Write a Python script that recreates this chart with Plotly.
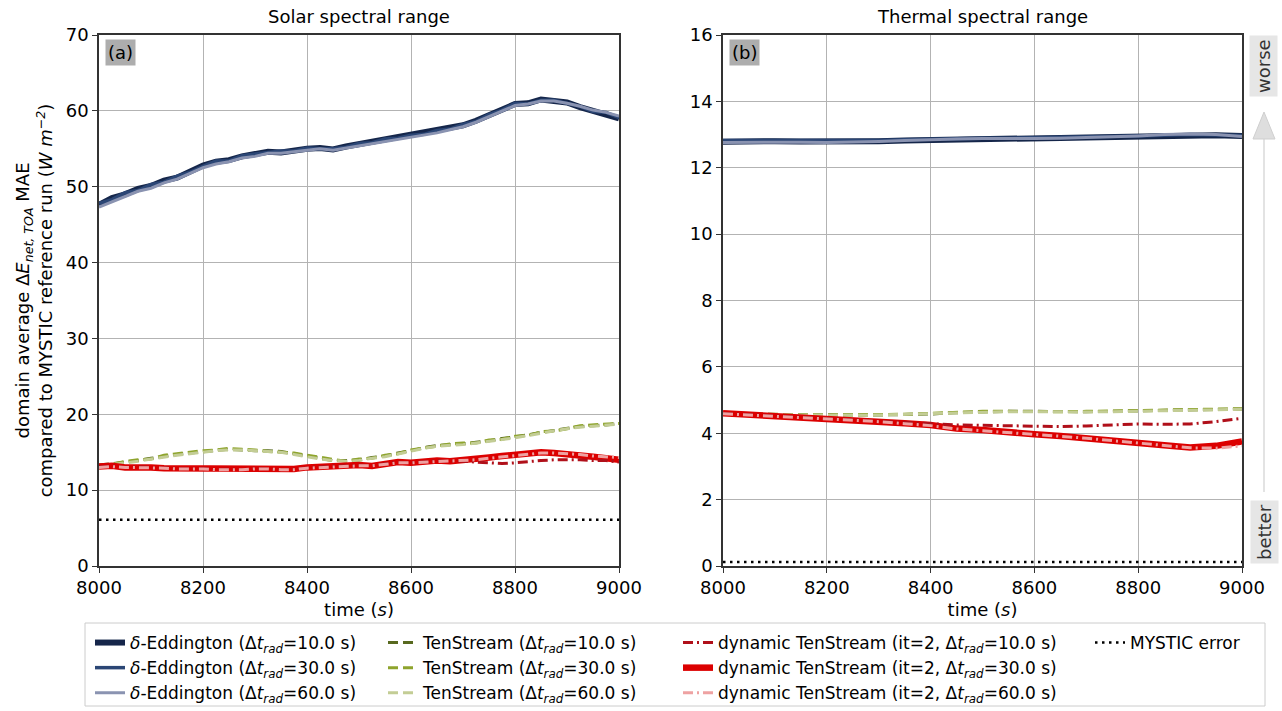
import plotly.graph_objects as go

# ---------------- data ----------------
time_solar = [8000, 8025, 8050, 8075, 8100, 8125, 8150, 8175, 8200, 8225, 8250, 8275, 8300, 8325,
              8350, 8375, 8400, 8425, 8450, 8475, 8500, 8525, 8550, 8575, 8600, 8625, 8650, 8675,
              8700, 8725, 8750, 8775, 8800, 8825, 8850, 8875, 8900, 8925, 8950, 8975, 9000]

deltaE_10_solar = [47.6, 48.5, 49.0, 49.7, 50.1, 50.8, 51.2, 52.1, 52.8, 53.3, 53.5, 54.0, 54.2, 54.6,
                   54.5, 54.8, 55.0, 55.1, 54.9, 55.3, 55.6, 55.9, 56.2, 56.5, 56.7, 57.0, 57.3, 57.7,
                   58.1, 58.7, 59.4, 60.2, 60.9, 61.0, 61.5, 61.3, 61.1, 60.5, 60.0, 59.7, 59.0]
deltaE_30_solar = [47.8, 48.3, 49.2, 49.5, 50.3, 50.6, 51.4, 51.9, 52.7, 53.4, 53.4, 54.1, 54.3, 54.5,
                   54.7, 54.7, 55.1, 55.0, 55.0, 55.2, 55.7, 55.8, 56.3, 56.4, 56.8, 56.9, 57.4, 57.6,
                   58.2, 58.6, 59.5, 60.1, 61.0, 60.9, 61.4, 61.4, 61.0, 60.6, 59.9, 59.8, 59.1]
deltaE_60_solar = [47.3, 48.0, 48.7, 49.4, 49.8, 50.5, 51.0, 51.8, 52.5, 53.0, 53.3, 53.8, 54.0, 54.4,
                   54.4, 54.6, 54.8, 55.0, 54.8, 55.1, 55.4, 55.7, 56.0, 56.3, 56.5, 56.8, 57.1, 57.5,
                   57.9, 58.5, 59.2, 60.0, 60.7, 60.9, 61.3, 61.3, 61.0, 60.6, 60.1, 59.8, 59.3]

tenstream_10_solar = [13.3, 13.5, 13.7, 13.9, 14.2, 14.5, 14.7, 14.9, 15.1, 15.3, 15.4, 15.3, 15.2, 15.2,
                      15.1, 14.8, 14.5, 14.2, 13.9, 13.9, 14.0, 14.3, 14.5, 14.9, 15.2, 15.6, 15.9, 16.0,
                      16.1, 16.3, 16.5, 16.8, 17.0, 17.3, 17.6, 17.9, 18.2, 18.4, 18.5, 18.6, 18.8]
tenstream_30_solar = [13.2, 13.4, 13.8, 14.0, 14.1, 14.6, 14.8, 15.0, 15.2, 15.3, 15.5, 15.4, 15.3, 15.1,
                      15.0, 14.9, 14.6, 14.3, 14.0, 13.8, 14.1, 14.2, 14.6, 14.8, 15.3, 15.5, 15.8, 16.1,
                      16.2, 16.2, 16.6, 16.7, 17.1, 17.2, 17.7, 17.8, 18.1, 18.5, 18.6, 18.7, 18.8]
tenstream_60_solar = [13.2, 13.4, 13.6, 13.8, 14.1, 14.4, 14.6, 14.8, 15.0, 15.2, 15.3, 15.3, 15.2, 15.1,
                      15.0, 14.7, 14.4, 14.1, 13.9, 13.8, 13.9, 14.2, 14.4, 14.8, 15.1, 15.5, 15.8, 15.9,
                      16.0, 16.2, 16.4, 16.7, 16.9, 17.2, 17.5, 17.8, 18.1, 18.3, 18.4, 18.6, 18.7]

dyn_10_solar = [13.1, 13.2, 13.0, 13.1, 13.0, 12.9, 12.9, 12.8, 12.9, 12.7, 12.8, 12.7, 12.9, 12.8,
                12.7, 12.8, 13.0, 13.1, 13.2, 13.2, 13.3, 13.2, 13.5, 13.7, 13.6, 13.8, 13.9, 13.8,
                13.8, 13.7, 13.6, 13.5, 13.6, 13.8, 13.9, 14.0, 14.0, 14.0, 13.9, 13.9, 13.7]
dyn_30_solar = [13.1, 13.2, 13.0, 13.1, 13.0, 12.9, 12.9, 12.8, 12.9, 12.7, 12.8, 12.7, 12.9, 12.8,
                12.7, 12.8, 13.0, 13.1, 13.2, 13.2, 13.3, 13.2, 13.5, 13.7, 13.6, 13.8, 13.9, 13.8,
                13.9, 14.1, 14.3, 14.5, 14.7, 14.8, 15.0, 14.9, 14.8, 14.6, 14.4, 14.2, 14.0]
dyn_60_solar = [13.0, 13.1, 13.0, 13.0, 12.9, 12.9, 12.8, 12.8, 12.8, 12.7, 12.7, 12.7, 12.8, 12.8,
                12.7, 12.7, 12.9, 13.0, 13.1, 13.2, 13.2, 13.2, 13.4, 13.6, 13.6, 13.7, 13.8, 13.8,
                13.9, 14.0, 14.2, 14.4, 14.6, 14.8, 14.9, 14.9, 14.8, 14.7, 14.5, 14.4, 14.3]

time_mystic = [8000, 9000]
mystic_solar = [6.1, 6.1]
mystic_thermal = [0.12, 0.12]

time_thermal = [8000, 8050, 8100, 8150, 8200, 8250, 8300, 8350, 8400, 8450, 8500,
                8550, 8600, 8650, 8700, 8750, 8800, 8850, 8900, 8950, 9000]

deltaE_10_thermal = [12.78, 12.80, 12.80, 12.79, 12.78, 12.79, 12.80, 12.82, 12.84, 12.86, 12.88,
                     12.88, 12.89, 12.90, 12.91, 12.93, 12.94, 12.96, 12.98, 12.98, 12.96]
deltaE_30_thermal = [12.82, 12.82, 12.81, 12.80, 12.80, 12.80, 12.82, 12.84, 12.86, 12.87, 12.89,
                     12.89, 12.90, 12.91, 12.93, 12.94, 12.96, 12.98, 13.00, 12.99, 12.97]
deltaE_60_thermal = [12.76, 12.77, 12.78, 12.77, 12.76, 12.77, 12.79, 12.82, 12.85, 12.87, 12.88,
                     12.87, 12.88, 12.89, 12.91, 12.93, 12.96, 13.00, 13.02, 13.00, 12.94]

tenstream_10_thermal = [4.58, 4.57, 4.56, 4.55, 4.55, 4.55, 4.55, 4.56, 4.58, 4.62, 4.65,
                        4.66, 4.66, 4.65, 4.65, 4.66, 4.67, 4.68, 4.70, 4.72, 4.73]
tenstream_30_thermal = [4.59, 4.58, 4.56, 4.56, 4.55, 4.56, 4.56, 4.57, 4.60, 4.63, 4.66,
                        4.66, 4.65, 4.65, 4.66, 4.67, 4.68, 4.70, 4.71, 4.72, 4.74]
tenstream_60_thermal = [4.57, 4.56, 4.55, 4.54, 4.54, 4.54, 4.55, 4.56, 4.59, 4.61, 4.64,
                        4.65, 4.65, 4.64, 4.64, 4.65, 4.66, 4.68, 4.69, 4.71, 4.72]

dyn_10_thermal = [4.60, 4.56, 4.52, 4.48, 4.45, 4.42, 4.37, 4.32, 4.28, 4.25, 4.24,
                  4.22, 4.20, 4.20, 4.22, 4.25, 4.28, 4.27, 4.28, 4.35, 4.45]
dyn_30_thermal = [4.60, 4.56, 4.52, 4.48, 4.45, 4.42, 4.36, 4.30, 4.25, 4.14, 4.10,
                  4.02, 3.97, 3.92, 3.86, 3.80, 3.73, 3.64, 3.57, 3.62, 3.75]
dyn_60_thermal = [4.59, 4.55, 4.51, 4.47, 4.44, 4.41, 4.35, 4.29, 4.23, 4.13, 4.08,
                  4.01, 3.96, 3.91, 3.85, 3.78, 3.71, 3.62, 3.56, 3.55, 3.62]

rad_steps = ["10.0", "30.0", "60.0"]
solar_yticks = [0, 10, 20, 30, 40, 50, 60, 70]
thermal_yticks = [0, 2, 4, 6, 8, 10, 12, 14, 16]
x_ticks = [8000, 8200, 8400, 8600, 8800, 9000]

# ---------------- styles ----------------
FONT = "DejaVu Sans"
dE_colors = ["#15264a", "#2b4675", "#8a93b1"]
dE_widths = [6, 3.5, 3]
ts_colors = ["#58691f", "#8ea42d", "#c3cd95"]
dyn_colors = ["#b0101a", "#dc0000", "#eea2a2"]
dyn_widths = [3, 6.5, 3]
dyn_dash = ["10px,4px,2px,4px", "solid", "10px,4px,2px,4px"]

fig = go.Figure()

def dt(s):
    return "(\u0394<i>t<sub>rad</sub></i>=" + s + " s)"

panels = [
    ("x", "y", time_solar, [deltaE_10_solar, deltaE_30_solar, deltaE_60_solar],
     [tenstream_10_solar, tenstream_30_solar, tenstream_60_solar],
     [dyn_10_solar, dyn_30_solar, dyn_60_solar], mystic_solar, True),
    ("x2", "y2", time_thermal, [deltaE_10_thermal, deltaE_30_thermal, deltaE_60_thermal],
     [tenstream_10_thermal, tenstream_30_thermal, tenstream_60_thermal],
     [dyn_10_thermal, dyn_30_thermal, dyn_60_thermal], mystic_thermal, False),
]

for xa, ya, t, dE, ts, dyn, my, show in panels:
    for i in range(3):
        fig.add_trace(go.Scatter(x=t, y=dE[i], mode="lines", xaxis=xa, yaxis=ya,
                                 line=dict(color=dE_colors[i], width=dE_widths[i]),
                                 name="<i>\u03b4</i>-Eddington " + dt(rad_steps[i]),
                                 legend="legend", showlegend=show))
    for i in range(3):
        fig.add_trace(go.Scatter(x=t, y=ts[i], mode="lines", xaxis=xa, yaxis=ya,
                                 line=dict(color=ts_colors[i], width=3, dash="10px,5px"),
                                 name="TenStream " + dt(rad_steps[i]),
                                 legend="legend2", showlegend=show))
    for i in [1, 0, 2]:
        fig.add_trace(go.Scatter(x=t, y=dyn[i], mode="lines", xaxis=xa, yaxis=ya,
                                 line=dict(color=dyn_colors[i], width=dyn_widths[i], dash=dyn_dash[i]),
                                 name="dynamic TenStream (it=2, \u0394<i>t<sub>rad</sub></i>=" + rad_steps[i] + " s)",
                                 legend="legend3", showlegend=show, legendrank=i + 1))
    fig.add_trace(go.Scatter(x=time_mystic, y=my, mode="lines", xaxis=xa, yaxis=ya,
                             line=dict(color="black", width=2.5, dash="2.5px,4.5px"),
                             name="MYSTIC error", legend="legend4", showlegend=show))

W, H = 1282, 711
def px_x(p):
    return p / W
def px_y(p):
    return 1 - p / H

axis_common = dict(showline=True, linecolor="#333333", linewidth=1.5, mirror=True,
                   ticks="outside", ticklen=5, tickcolor="#333333", automargin=False,
                   showgrid=True, gridcolor="#b3b3b3", gridwidth=1, zeroline=False,
                   tickfont=dict(size=18, color="black", family=FONT))

ydom = [px_y(566), px_y(35)]
fig.update_layout(
    width=W, height=H, margin=dict(l=0, r=0, t=0, b=0, autoexpand=False),
    plot_bgcolor="white", paper_bgcolor="white",
    font=dict(family=FONT, color="black"),
    xaxis=dict(domain=[px_x(99), px_x(619)], range=[8000, 9000], tickvals=x_ticks,
               title=dict(text="time (<i>s</i>)", font=dict(size=18), standoff=6), anchor="y", **axis_common),
    yaxis=dict(domain=ydom, range=[0, 70], tickvals=solar_yticks, anchor="x",
               title=dict(text="domain average \u0394<i>E<sub>net, TOA</sub></i> MAE<br>compared to MYSTIC reference run (<i>W m<sup>\u22122</sup></i>)",
                          font=dict(size=18), standoff=8), **axis_common),
    xaxis2=dict(domain=[px_x(723), px_x(1242)], range=[8000, 9000], tickvals=x_ticks,
                title=dict(text="time (<i>s</i>)", font=dict(size=18), standoff=6), anchor="y2", **axis_common),
    yaxis2=dict(domain=ydom, range=[0, 16], tickvals=thermal_yticks, anchor="x2", **axis_common),
)

leg_common = dict(yanchor="top", xanchor="left", bgcolor="rgba(0,0,0,0)", borderwidth=0,
                  font=dict(size=17, family=FONT, color="black"), tracegroupgap=0, itemwidth=30,
                  orientation="v")
fig.update_layout(
    legend=dict(x=px_x(90), y=px_y(625), **leg_common),
    legend2=dict(x=px_x(383), y=px_y(625), **leg_common),
    legend3=dict(x=px_x(678), y=px_y(625), **leg_common),
    legend4=dict(x=px_x(1090), y=px_y(625), **leg_common),
)

shapes = [
    dict(type="rect", xref="paper", yref="paper", x0=px_x(85), x1=px_x(1265), y0=px_y(706), y1=px_y(623),
         line=dict(color="#cccccc", width=1), fillcolor="rgba(0,0,0,0)", layer="below"),
    dict(type="line", xref="paper", yref="paper", x0=px_x(1264), x1=px_x(1264), y0=px_y(492), y1=px_y(138),
         line=dict(color="#e3e3e3", width=2)),
    dict(type="path", xref="paper", yref="paper",
         path=f"M {px_x(1253)} {px_y(139)} L {px_x(1275)} {px_y(139)} L {px_x(1264)} {px_y(112)} Z",
         fillcolor="#dedede", line=dict(color="#cfcfcf", width=1)),
]
fig.update_layout(shapes=shapes)

ann = [
    dict(text="Solar spectral range", x=0.5, xref="x domain", y=px_y(17), yref="paper",
         showarrow=False, font=dict(size=18), xanchor="center", yanchor="middle"),
    dict(text="Thermal spectral range", x=0.5, xref="x2 domain", y=px_y(17), yref="paper",
         showarrow=False, font=dict(size=18), xanchor="center", yanchor="middle"),
    dict(text="(a)", x=0.012, xref="x domain", y=0.993, yref="y domain", showarrow=False,
         xanchor="left", yanchor="top", font=dict(size=18), bgcolor="#adadad", borderpad=2),
    dict(text="(b)", x=0.012, xref="x2 domain", y=0.993, yref="y2 domain", showarrow=False,
         xanchor="left", yanchor="top", font=dict(size=18), bgcolor="#adadad", borderpad=2),
    dict(text="worse", x=px_x(1264), y=px_y(66), xref="paper", yref="paper", showarrow=False,
         textangle=-90, font=dict(size=18, color="#333333"), bgcolor="#e6e6e6", borderpad=3,
         xanchor="center", yanchor="middle"),
    dict(text="better", x=px_x(1264), y=px_y(532), xref="paper", yref="paper", showarrow=False,
         textangle=-90, font=dict(size=18, color="#333333"), bgcolor="#e6e6e6", borderpad=3,
         xanchor="center", yanchor="middle"),
]
fig.update_layout(annotations=ann)

fig.write_html("out.html", config={"displayModeBar": False},
               post_script="document.body.style.margin='0px'; document.body.style.padding='0px';")
